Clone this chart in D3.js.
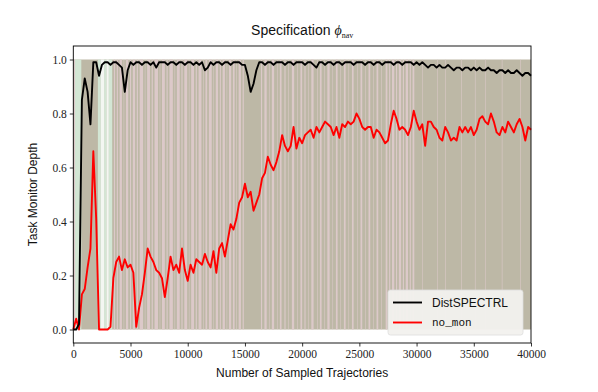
<!DOCTYPE html>
<html>
<head>
<meta charset="utf-8">
<script src="https://cdn.jsdelivr.net/npm/d3@7"></script>
<style>
  body { margin: 0; background: #fff; }
  svg { display: block; }
</style>
</head>
<body>
<div id="chart"></div>
<script>
(function(){

    var width = 598;
    var height = 392;

    var margin = { top: 46, bottom: 49, left: 73.3, right: 67 };

    // x step between samples
    var STEP = 250;

    var distSpectrl = [
        0.00, 0.00, 0.02, 0.85, 0.93, 0.88, 0.76, 0.99, 0.99, 0.94,
        0.98, 0.99, 0.99, 0.98, 0.99, 0.99, 0.98, 0.97, 0.88, 0.96,
        0.99, 0.98, 0.99, 0.99, 0.98, 0.99, 0.99, 0.98, 0.99, 0.97,
        0.99, 0.99, 0.99, 0.98, 0.99, 0.99, 0.98, 0.99, 0.99, 0.98,
        0.99, 0.99, 0.98, 0.99, 0.98, 0.99, 0.96, 0.97, 0.99, 0.98,
        0.99, 0.99, 0.98, 0.99, 0.99, 0.98, 0.99, 0.99, 0.99, 0.98,
        0.98, 0.94, 0.88, 0.91, 0.96, 0.99, 0.99, 0.98, 0.99, 0.99,
        0.98, 0.99, 0.99, 0.99, 0.98, 0.99, 0.99, 0.98, 0.99, 0.99,
        0.99, 0.98, 0.99, 0.99, 0.98, 0.97, 0.99, 0.99, 0.98, 0.99,
        0.99, 0.98, 0.99, 0.99, 0.98, 0.99, 0.99, 0.99, 0.98, 0.99,
        0.99, 0.99, 0.98, 0.99, 0.99, 0.98, 0.99, 0.99, 0.98, 0.99,
        0.99, 0.99, 0.98, 0.99, 0.99, 0.98, 0.99, 0.99, 0.99, 0.98,
        0.99, 0.98, 0.99, 0.98, 0.97, 0.98, 0.98, 0.97, 0.98, 0.97,
        0.97, 0.98, 0.97, 0.96, 0.97, 0.97, 0.96, 0.97, 0.97, 0.96,
        0.97, 0.96, 0.97, 0.96, 0.96, 0.97, 0.96, 0.96, 0.95, 0.96,
        0.96, 0.95, 0.96, 0.95, 0.95, 0.96, 0.95, 0.94, 0.95, 0.95,
        0.94
    ];

    var noMon = [
        0.00, 0.04, 0.00, 0.13, 0.15, 0.23, 0.30, 0.66, 0.41, 0.00,
        0.00, 0.00, 0.00, 0.01, 0.19, 0.25, 0.27, 0.22, 0.26, 0.23,
        0.24, 0.21, 0.01, 0.08, 0.13, 0.21, 0.30, 0.27, 0.25, 0.22,
        0.21, 0.19, 0.12, 0.19, 0.27, 0.22, 0.24, 0.21, 0.30, 0.22,
        0.18, 0.24, 0.21, 0.26, 0.25, 0.24, 0.28, 0.25, 0.23, 0.29,
        0.21, 0.30, 0.32, 0.27, 0.33, 0.39, 0.37, 0.41, 0.47, 0.49,
        0.54, 0.49, 0.51, 0.44, 0.47, 0.50, 0.56, 0.58, 0.64, 0.61,
        0.59, 0.62, 0.66, 0.72, 0.68, 0.66, 0.68, 0.75, 0.67, 0.71,
        0.69, 0.72, 0.73, 0.74, 0.71, 0.75, 0.73, 0.75, 0.77, 0.76,
        0.75, 0.72, 0.75, 0.71, 0.76, 0.75, 0.77, 0.76, 0.77, 0.80,
        0.78, 0.75, 0.74, 0.75, 0.75, 0.71, 0.74, 0.73, 0.71, 0.69,
        0.70, 0.76, 0.81, 0.78, 0.74, 0.75, 0.74, 0.72, 0.75, 0.81,
        0.77, 0.74, 0.76, 0.68, 0.77, 0.77, 0.75, 0.74, 0.71, 0.70,
        0.75, 0.73, 0.70, 0.71, 0.70, 0.75, 0.73, 0.75, 0.73, 0.75,
        0.72, 0.74, 0.78, 0.79, 0.77, 0.76, 0.80, 0.77, 0.73, 0.72,
        0.75, 0.73, 0.77, 0.75, 0.73, 0.76, 0.78, 0.75, 0.70, 0.75,
        0.74
    ];

    // background state bands [start, end] in trajectories
    var baseBand = [[0, 40000]];
    var greenBands = [[150, 700], [2150, 2400], [2700, 2900], [3100, 3400]];
    var whiteBands = [[2400, 2700], [2900, 3100]];
    var pinkBands = [
        [0, 150], [3550, 3650], [3800, 3900], [4050, 4250], [4400, 4450], [4600, 4800],
        [4950, 5050], [5200, 5400], [5550, 5650], [5800, 6100], [6250, 6300], [6450, 6700],
        [6850, 6950], [7100, 7400], [7550, 7600], [7750, 8000], [8150, 8250], [8400, 8700],
        [8850, 8900], [9050, 9300], [9450, 9550], [9700, 9950], [10100, 10150], [10300, 10550],
        [10700, 10800], [10950, 11200], [11350, 11400], [11550, 11700], [11850, 12100],
        [12250, 12300], [12450, 12650], [12800, 12900], [13050, 13250], [13400, 13450],
        [13600, 13800], [13950, 14100], [14250, 14300], [14450, 14650], [14800, 14900],
        [16400, 16500], [16700, 16900], [17100, 17150], [17350, 17550], [17800, 17850],
        [18050, 18200], [18450, 18550], [18800, 18850], [19100, 19300], [19550, 19600],
        [19850, 20000], [20200, 20300], [20550, 20600], [20800, 21000], [21300, 21350],
        [21550, 21700], [21950, 22000], [22200, 22400], [22650, 22700], [22950, 23100],
        [23350, 23400], [23650, 23800], [24050, 24100], [24350, 24500], [24800, 24850],
        [25100, 25250], [25500, 25550], [25800, 25950], [26200, 26250], [26500, 26650],
        [26900, 26950], [27300, 27450], [27600, 27700], [27850, 28050], [28200, 28300],
        [28450, 28650], [28800, 28900], [29050, 29250], [29400, 29500], [29650, 29800],
        [30500, 30550], [31800, 31850], [32500, 32550], [33900, 33950], [35100, 35150],
        [36000, 36050], [37450, 37500], [39050, 39100]
    ];

    var xTicks = [0, 5000, 10000, 15000, 20000, 25000, 30000, 35000, 40000];
    var yTicks = [0.0, 0.2, 0.4, 0.6, 0.8, 1.0];

    var svg = d3.select("#chart")
        .append("svg")
            .attr("width", width)
            .attr("height", height);

    var x = d3.scaleLinear()
        .domain([0, 40000])
        .range([margin.left, width - margin.right]);

    var y = d3.scaleLinear()
        .domain([-0.05, 1.05])
        .range([height - margin.bottom, margin.top]);

    // bands
    function drawBands(data, colour) {
        svg.append("g")
            .selectAll("rect")
            .data(data)
            .enter()
            .append("rect")
                .attr("x", function(d){ return x(d[0]); })
                .attr("width", function(d){ return x(d[1]) - x(d[0]); })
                .attr("y", y(1))
                .attr("height", y(0) - y(1))
                .attr("fill", colour);
    }
    drawBands(baseBand, "#bdb8a6");
    drawBands(pinkBands, "#dcc9c9");
    drawBands(greenBands, "#d3e6d4");
    drawBands(whiteBands, "#f3f6f2");

    // lines
    var line = d3.line()
        .x(function(d, i){ return x(i * STEP); })
        .y(function(d){ return y(d); });

    svg.append("path")
        .datum(noMon)
        .attr("d", line)
        .attr("fill", "none")
        .attr("stroke", "#ff0000")
        .attr("stroke-width", 1.9)
        .attr("stroke-linejoin", "round");

    svg.append("path")
        .datum(distSpectrl)
        .attr("d", line)
        .attr("fill", "none")
        .attr("stroke", "#000")
        .attr("stroke-width", 1.9)
        .attr("stroke-linejoin", "round");

    // axes
    var xAxis = d3.axisBottom(x)
        .tickValues(xTicks)
        .tickSize(3.5)
        .tickPadding(3)
        .tickFormat(d3.format("d"));

    var yAxis = d3.axisLeft(y)
        .tickValues(yTicks)
        .tickSize(3.5)
        .tickPadding(3)
        .tickFormat(d3.format(".1f"));

    var gx = svg.append("g")
        .attr("transform", "translate(0," + (height - margin.bottom) + ")")
        .call(xAxis);

    var gy = svg.append("g")
        .attr("transform", "translate(" + margin.left + ",0)")
        .call(yAxis);

    [gx, gy].forEach(function(g){
        g.select(".domain").remove();
        g.selectAll("line").attr("stroke", "#000").attr("stroke-width", 0.8);
        g.selectAll("text")
            .attr("fill", "#222")
            .style("font-family", "'Liberation Serif', 'DejaVu Serif', serif")
            .style("font-size", "11.5px");
    });

    // frame
    svg.append("rect")
        .attr("x", margin.left)
        .attr("y", margin.top)
        .attr("width", width - margin.left - margin.right)
        .attr("height", height - margin.top - margin.bottom)
        .attr("fill", "none")
        .attr("stroke", "#000")
        .attr("stroke-width", 0.9);

    // title
    var title = svg.append("text")
        .attr("x", (margin.left + width - margin.right) / 2)
        .attr("y", 35)
        .attr("text-anchor", "middle")
        .style("font-family", "'Liberation Sans', Arial, sans-serif")
        .style("font-size", "14px")
        .attr("fill", "#111");
    title.append("tspan").text("Specification ");
    title.append("tspan")
        .style("font-family", "'Liberation Serif', serif")
        .style("font-style", "italic")
        .text("\u03d5");
    title.append("tspan")
        .attr("dy", 3)
        .style("font-family", "'Liberation Serif', serif")
        .style("font-size", "8px")
        .text("nav");

    // axis labels
    svg.append("text")
        .attr("x", (margin.left + width - margin.right) / 2)
        .attr("y", 377)
        .attr("text-anchor", "middle")
        .style("font-family", "'Liberation Sans', Arial, sans-serif")
        .style("font-size", "12px")
        .attr("fill", "#111")
        .text("Number of Sampled Trajectories");

    svg.append("text")
        .attr("transform", "translate(37," + ((margin.top + height - margin.bottom) / 2) + ") rotate(-90)")
        .attr("text-anchor", "middle")
        .style("font-family", "'Liberation Sans', Arial, sans-serif")
        .style("font-size", "12px")
        .attr("fill", "#111")
        .text("Task Monitor Depth");

    // legend
    var legend = svg.append("g")
        .attr("transform", "translate(388,290)");

    legend.append("rect")
        .attr("width", 135)
        .attr("height", 45)
        .attr("rx", 2.5)
        .attr("fill", "#f2f1ee")
        .attr("fill-opacity", 0.95)
        .attr("stroke", "#ddd")
        .attr("stroke-width", 0.8);

    var items = [
        { name: "DistSPECTRL", colour: "#000", font: "'Liberation Sans', Arial, sans-serif", size: "12px" },
        { name: "no_mon", colour: "#ff0000", font: "'Liberation Mono', 'DejaVu Sans Mono', monospace", size: "11px" }
    ];

    var item = legend.selectAll("g.item")
        .data(items)
        .enter()
        .append("g")
            .attr("class", "item")
            .attr("transform", function(d, i){ return "translate(0," + (12.5 + i * 20) + ")"; });

    item.append("line")
        .attr("x1", 5)
        .attr("x2", 34)
        .attr("stroke", function(d){ return d.colour; })
        .attr("stroke-width", 1.9);

    item.append("text")
        .attr("x", 44)
        .attr("dy", "0.35em")
        .style("font-family", function(d){ return d.font; })
        .style("font-size", function(d){ return d.size; })
        .attr("fill", "#111")
        .text(function(d){ return d.name; });

})();
</script>
</body>
</html>
